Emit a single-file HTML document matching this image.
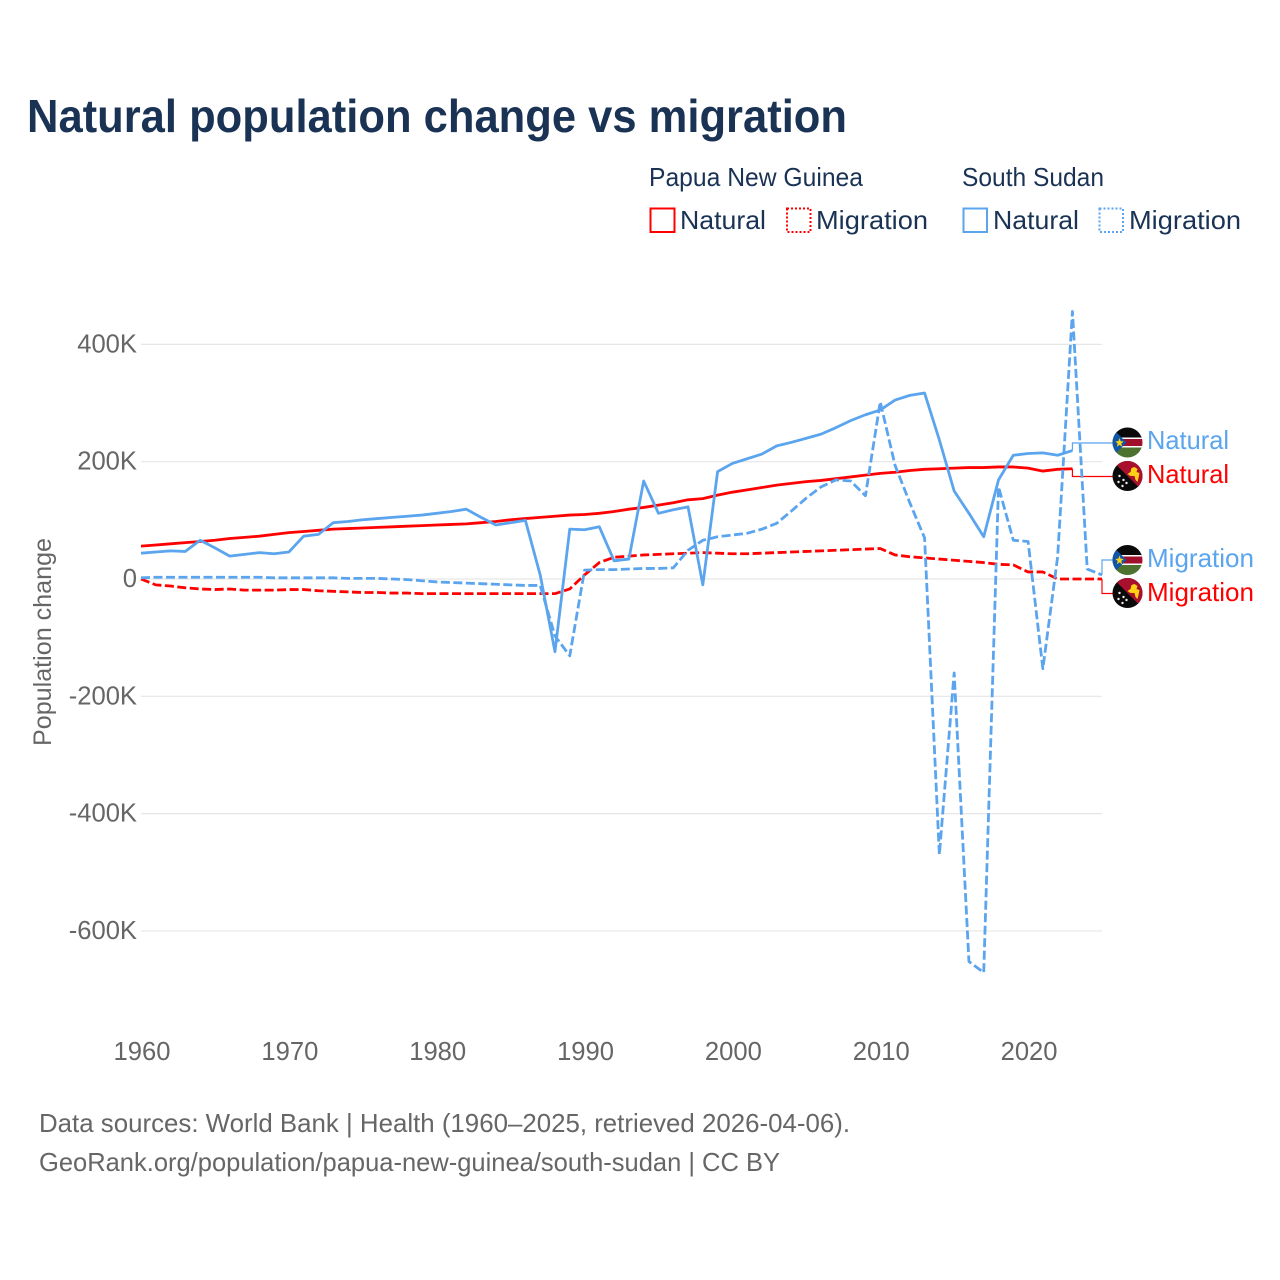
<!DOCTYPE html>
<html lang="en">
<head>
<meta charset="utf-8">
<title>Natural population change vs migration</title>
<style>
html,body{margin:0;padding:0;background:#fff;}
svg{display:block;font-family:"Liberation Sans",sans-serif;}
</style>
</head>
<body>
<svg id="chart" xmlns="http://www.w3.org/2000/svg" width="1280" height="1280" viewBox="0 0 1280 1280">
  <defs>
    <clipPath id="flag-clip"><circle cx="15" cy="15" r="15"/></clipPath>
    <g id="ssd-flag">
      <g clip-path="url(#flag-clip)">
        <rect width="30" height="11" fill="#0a0a0a"/>
        <rect y="10" width="30" height="10" fill="#fff"/>
        <rect y="11.5" width="30" height="7" fill="#a00f2c"/>
        <rect y="20" width="30" height="10" fill="#4d7230"/>
        <polygon points="0,1 14,15 0,29" fill="#0f55a8"/>
        <polygon points="7,10.5 8.1,13.6 11.2,14 8.8,16 9.6,19.2 7,17.4 4.4,19.2 5.2,16 2.8,14 5.9,13.6" fill="#fcd116"/>
      </g>
    </g>
    <g id="png-flag">
      <g clip-path="url(#flag-clip)">
        <rect width="30" height="30" fill="#0a0a0a"/>
        <polygon points="0,0 30,0 30,30" fill="#a8102d"/>
        <path d="M15 13 L18 11 L19 7 L22 6 L25 8 L24 11 L27 12 L26 17 L25 21 L23 19 L22 15 L18 15 Z" fill="#fcd116"/>
        <circle cx="7" cy="15" r="1.2" fill="#eee"/>
        <circle cx="11" cy="19" r="1.2" fill="#eee"/>
        <circle cx="6" cy="21" r="1.2" fill="#eee"/>
        <circle cx="14" cy="22" r="1.2" fill="#eee"/>
        <circle cx="10" cy="25" r="1.2" fill="#eee"/>
      </g>
    </g>
  </defs>

  <text x="27" y="132" font-size="46" font-weight="700" fill="#1a3355" textLength="820" lengthAdjust="spacingAndGlyphs">Natural population change vs migration</text>

  <g font-size="26" fill="#1a3355">
    <text x="649" y="186" textLength="214" lengthAdjust="spacingAndGlyphs">Papua New Guinea</text>
    <text x="962" y="186" textLength="142" lengthAdjust="spacingAndGlyphs">South Sudan</text>
    <rect x="650.5" y="208.5" width="24" height="23.5" fill="none" stroke="#ff0000" stroke-width="2"/>
    <text x="680" y="229" textLength="86" lengthAdjust="spacingAndGlyphs">Natural</text>
    <rect x="787" y="208.5" width="23.5" height="23.5" fill="none" stroke="#ff0000" stroke-width="2" stroke-dasharray="2 2"/>
    <text x="816" y="229" textLength="112" lengthAdjust="spacingAndGlyphs">Migration</text>
    <rect x="963.5" y="208.5" width="23.5" height="23.5" fill="none" stroke="#5ba4ee" stroke-width="2"/>
    <text x="993" y="229" textLength="86" lengthAdjust="spacingAndGlyphs">Natural</text>
    <rect x="1099.5" y="208.5" width="23.5" height="23.5" fill="none" stroke="#5ba4ee" stroke-width="2" stroke-dasharray="2 2"/>
    <text x="1129" y="229" textLength="112" lengthAdjust="spacingAndGlyphs">Migration</text>
  </g>

  <g id="grid"></g>
  <g id="y-axis"></g>
  <g id="x-axis"></g>
  <g id="series"></g>

  <text transform="translate(51,746) rotate(-90)" font-size="25" fill="#666666" textLength="208" lengthAdjust="spacingAndGlyphs">Population change</text>

  <g font-size="26">
    <use href="#ssd-flag" x="1112.5" y="427.5"/>
    <text x="1147" y="449" fill="#5ba4ee" textLength="82" lengthAdjust="spacingAndGlyphs">Natural</text>
    <use href="#png-flag" x="1112.5" y="461"/>
    <text x="1147" y="483" fill="#ff0000" textLength="82" lengthAdjust="spacingAndGlyphs">Natural</text>
    <use href="#ssd-flag" x="1112.5" y="545"/>
    <text x="1147" y="567" fill="#5ba4ee" textLength="107" lengthAdjust="spacingAndGlyphs">Migration</text>
    <use href="#png-flag" x="1112.5" y="578"/>
    <text x="1147" y="601" fill="#ff0000" textLength="107" lengthAdjust="spacingAndGlyphs">Migration</text>
  </g>

  <g font-size="26" fill="#666666">
    <text x="39" y="1132" textLength="811" lengthAdjust="spacingAndGlyphs">Data sources: World Bank | Health (1960–2025, retrieved 2026-04-06).</text>
    <text x="39" y="1171" textLength="741" lengthAdjust="spacingAndGlyphs">GeoRank.org/population/papua-new-guinea/south-sudan | CC BY</text>
  </g>
</svg>
<script>
var startYear = 1960;
var xTickYears = [1960, 1970, 1980, 1990, 2000, 2010, 2020];
var yTickValues = [400, 200, 0, -200, -400, -600];
var yTickLabels = ['400K', '200K', '0', '-200K', '-400K', '-600K'];

var pngNatural = [56,58,60,62,64,66,69,71,73,76,
  79,81,83,85,86,87,88,89,90,91,
  92,93,94,96,98,101,103,105,107,109,
  110,112,115,119,122,126,130,135,137,143,
  148,152,156,160,163,166,168,171,174,177,
  180,182,185,187,188,189,190,190,191,191,
  189,184,187,188];
var pngMigration = [0,-10,-12,-15,-17,-18,-17,-19,-19,-19,
  -18,-18,-20,-21,-22,-23,-23,-24,-24,-25,
  -25,-25,-25,-25,-25,-25,-25,-25,-25,-17,
  7,28,37,39,41,42,43,44,45,44,
  43,43,44,45,46,47,48,49,50,51,
  52,41,38,36,34,32,30,28,25,24,
  12,12,0,0,0,0];
var ssdNatural = [44,46,48,47,66,53,39,42,45,43,
  46,73,76,96,98,101,103,105,107,109,
  112,115,119,105,92,96,100,7,-124,85,
  84,89,31,34,167,112,118,123,-10,183,
  197,205,213,227,233,240,247,258,270,280,
  288,305,313,317,237,150,112,72,169,211,
  214,215,211,219];
var ssdMigration = [2,3,3,3,3,3,3,3,3,2,
  2,2,2,2,1,1,1,0,-1,-3,
  -5,-6,-7,-8,-9,-10,-11,-11,-97,-131,
  15,16,16,17,18,18,19,49,66,72,
  75,78,85,95,116,138,157,169,167,142,
  302,194,130,70,-470,-160,-652,-671,157,66,
  64,-153,38,456,17,7];

var SVGNS = 'http://www.w3.org/2000/svg';
var plotLeft = 141;
var plotRight = 1102;
var blue = '#5ba4ee';
var red = '#ff0000';

function xScale(year) { return plotLeft + (year - 1960) * (plotRight - plotLeft) / 65; }
function yScale(value) { return 579 - value * 0.5866; }

function make(tag, attrs, parent) {
  var el = document.createElementNS(SVGNS, tag);
  for (var k in attrs) { el.setAttribute(k, attrs[k]); }
  parent.appendChild(el);
  return el;
}

var gridGroup = document.getElementById('grid');
var yGroup = document.getElementById('y-axis');
var xGroup = document.getElementById('x-axis');
var seriesGroup = document.getElementById('series');

yTickValues.forEach(function (v, i) {
  var line = make('line', {x1: plotLeft, x2: plotRight, y1: yScale(v), y2: yScale(v), stroke: '#e6e6e6', 'stroke-width': 1.2}, gridGroup);
  
  
  var t = make('text', {x: 137, y: yScale(v) + 8, 'text-anchor': 'end', 'font-size': 25.6, fill: '#666666'}, yGroup);
  
  
  t.textContent = yTickLabels[i];
});

xTickYears.forEach(function (yr) {
  var t = make('text', {x: xScale(yr) + 1, y: 1060, 'text-anchor': 'middle', 'font-size': 25.6, fill: '#666666'}, xGroup);
  
  
  t.textContent = String(yr);
});

function seriesPoints(values) {
  return values.map(function (v, i) { return [xScale(startYear + i), yScale(v)]; });
}

function toPath(points) {
  return points.map(function (p, i) { return (i ? 'L' : 'M') + p[0].toFixed(2) + ' ' + p[1].toFixed(2); }).join(' ');
}

function drawConnector(values, labelY, color) {
  var pts = seriesPoints(values);
  var last = pts[pts.length - 1];
  return make('path', {d: 'M' + last[0].toFixed(2) + ' ' + last[1].toFixed(2) + ' V' + labelY + ' H1113', fill: 'none', stroke: color, 'stroke-width': 1.2}, seriesGroup);
}

var c1 = drawConnector(pngNatural, 476.5, red);


var c2 = drawConnector(ssdNatural, 443, blue);


var c3 = drawConnector(pngMigration, 593.5, red);


var c4 = drawConnector(ssdMigration, 560, blue);



function drawLine(values, color, dash) {
  var attrs = {d: toPath(seriesPoints(values)), fill: 'none', stroke: color, 'stroke-width': 2.8, 'stroke-linejoin': 'round'};
  if (dash) { attrs['stroke-dasharray'] = dash; }
  return make('path', attrs, seriesGroup);
}

var l1 = drawLine(pngMigration, red, '9 3.5');


var l2 = drawLine(pngNatural, red, null);


var l3 = drawLine(ssdMigration, blue, '9 3.5');


var l4 = drawLine(ssdNatural, blue, null);


</script>
</body>
</html>
